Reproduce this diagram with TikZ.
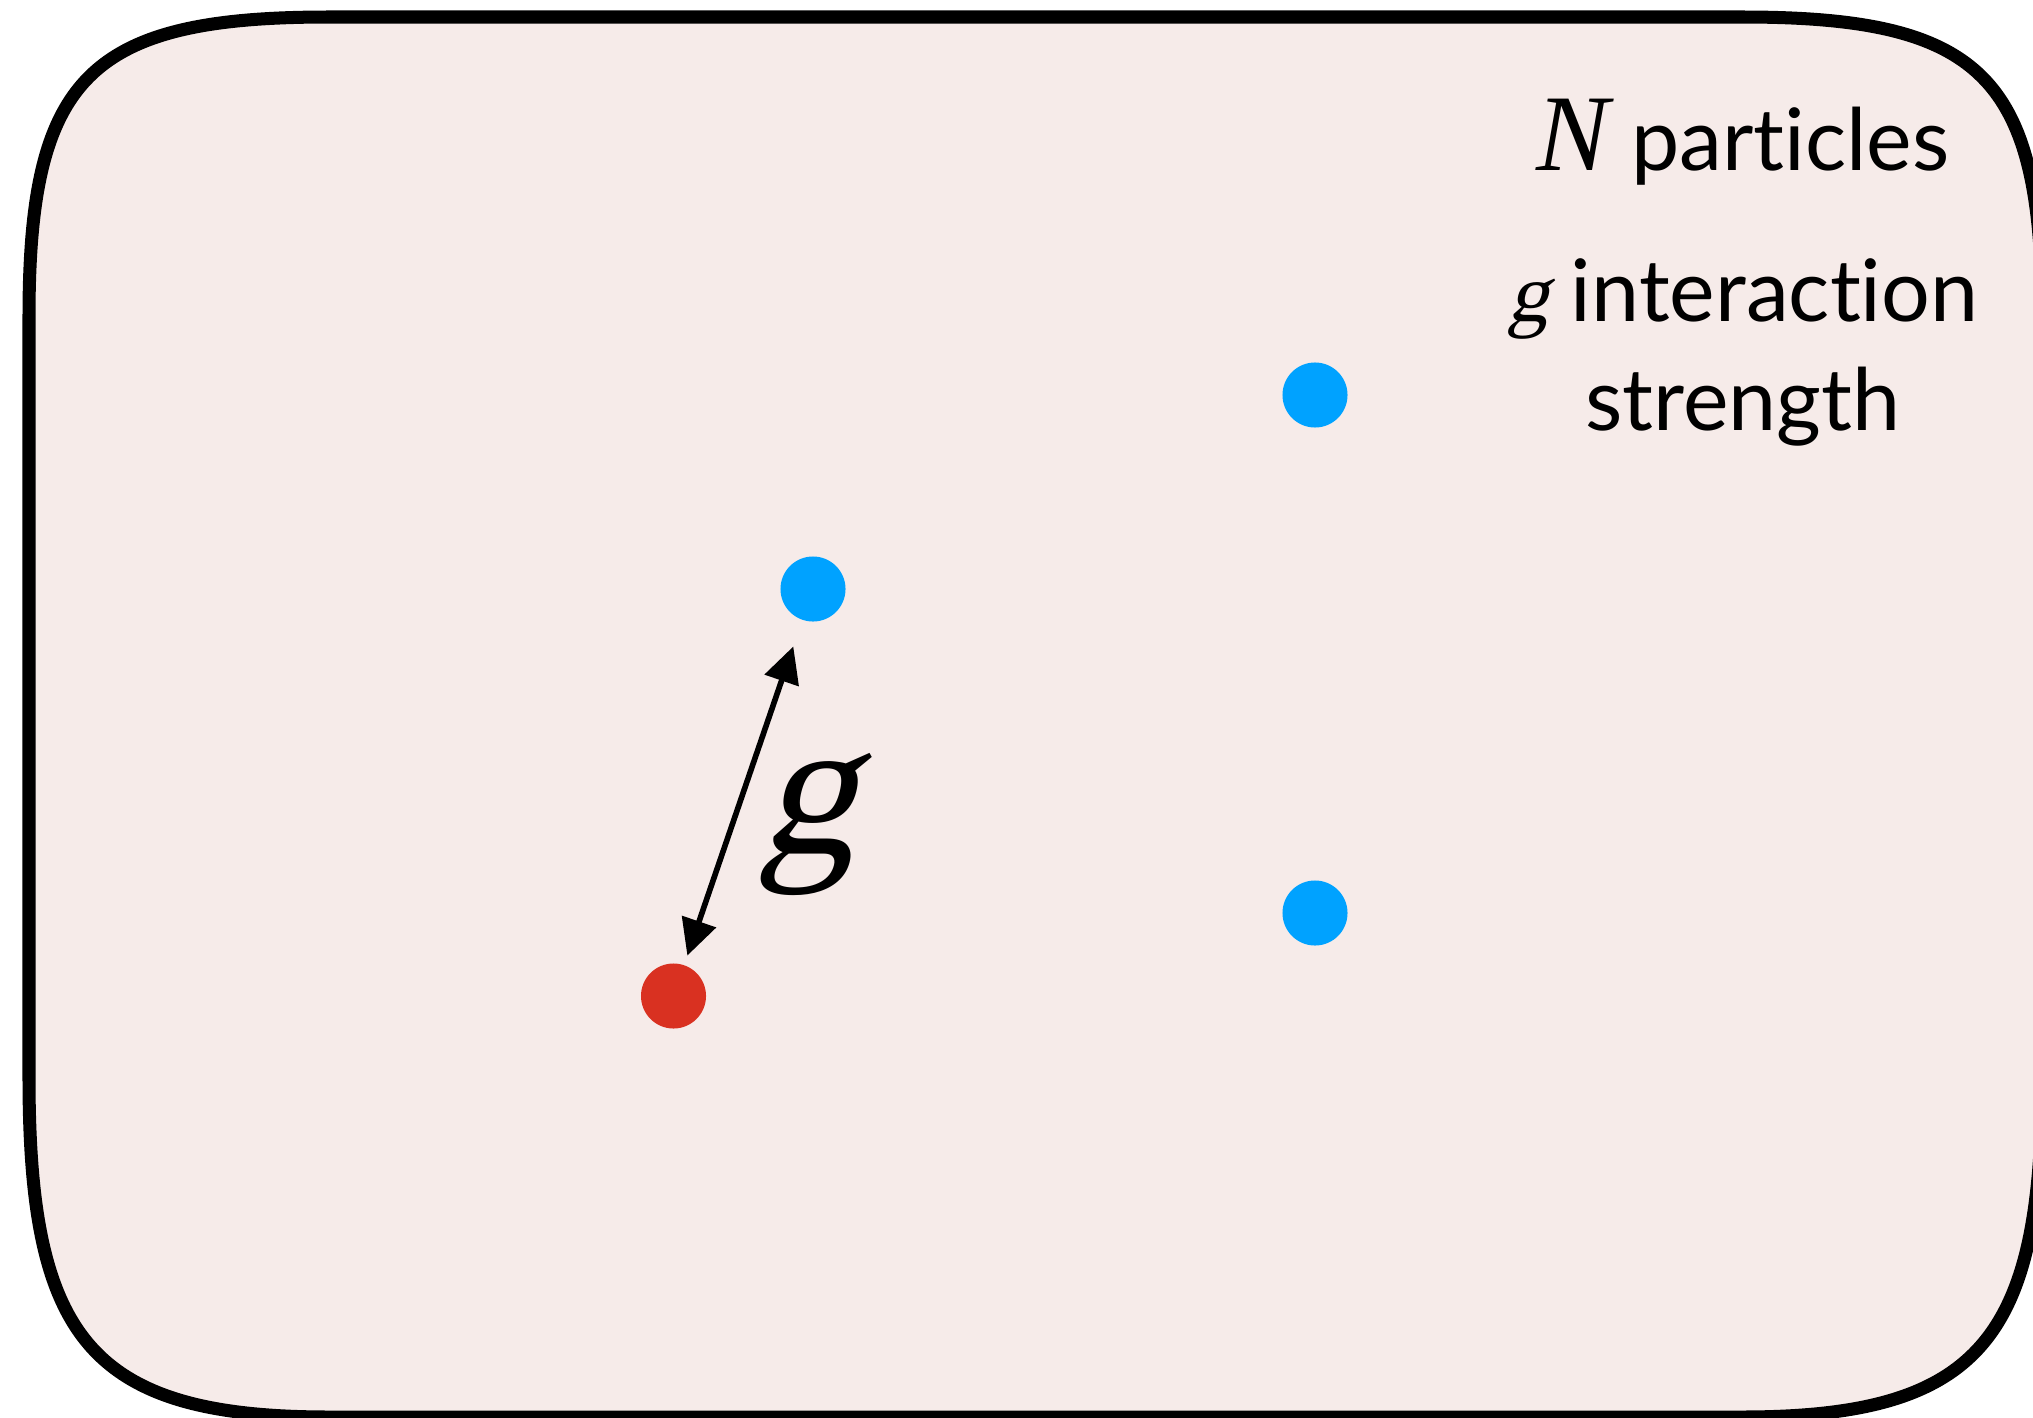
\documentclass[tikz,border=0pt]{standalone}
\usepackage{fontspec}
\setmainfont{Lato}[Ligatures={NoCommon}]
\newfontfamily\serifmath{Liberation Serif}
\newfontfamily\gfont{Liberation Serif}[FakeSlant=0.25]
\usetikzlibrary{arrows.meta}
\definecolor{boxfill}{HTML}{F6EBE9}
\definecolor{pblue}{HTML}{00A2FF}
\definecolor{pred}{HTML}{D93121}
\begin{document}
\begin{tikzpicture}[x=0.01cm,y=-0.01cm,
  particle/.style={circle, inner sep=0pt, minimum size=0.65cm, draw=none},
  txt/.style={inner sep=0pt, font=\fontsize{24.5}{29}\selectfont}]
\useasboundingbox (0,0) rectangle (2033,1418);
\clip (0,0) rectangle (2033,1418);
\fill[white] (0,0) rectangle (2033,1418);
% container box with smooth corners
\draw[line width=3.7pt, fill=boxfill]
  (329,17) -- (1742,17)
  .. controls (1982,17) and (2042,77) .. (2042,317)
  -- (2042,1077)
  .. controls (2042,1337) and (1982,1417) .. (1742,1417)
  -- (329,1417)
  .. controls (89,1417) and (29,1337) .. (29,1077)
  -- (29,317)
  .. controls (29,77) and (89,17) .. cycle;
% particles
\node[particle, fill=pblue] (b1) at (1315,395) {};
\node[particle, fill=pblue] (b2) at (813,589) {};
\node[particle, fill=pblue] (b3) at (1315,913) {};
\node[particle, fill=pred] (r) at (673.5,996) {};
% interaction arrow
\draw[{Triangle[length=0.36cm,width=0.35cm]}-{Triangle[length=0.36cm,width=0.35cm]},
  line width=1.6pt, shorten <=0.095cm, shorten >=0.275cm] (r) -- (b2);
\node[inner sep=0pt, font=\gfont\fontsize{55.5}{56}\selectfont] (gl) at (807,824) {g};
% legend text
\node[txt, anchor=base] (np) at (1743,170) {{\serifmath\itshape\fontsize{31}{31}\selectfont N} particles};
\node[txt, anchor=base] (gi) at (1743,321) {{\gfont\fontsize{23.5}{29}\selectfont g} interaction};
\node[txt, anchor=base] (st) at (1743,430) {strength};
\end{tikzpicture}
\end{document}
